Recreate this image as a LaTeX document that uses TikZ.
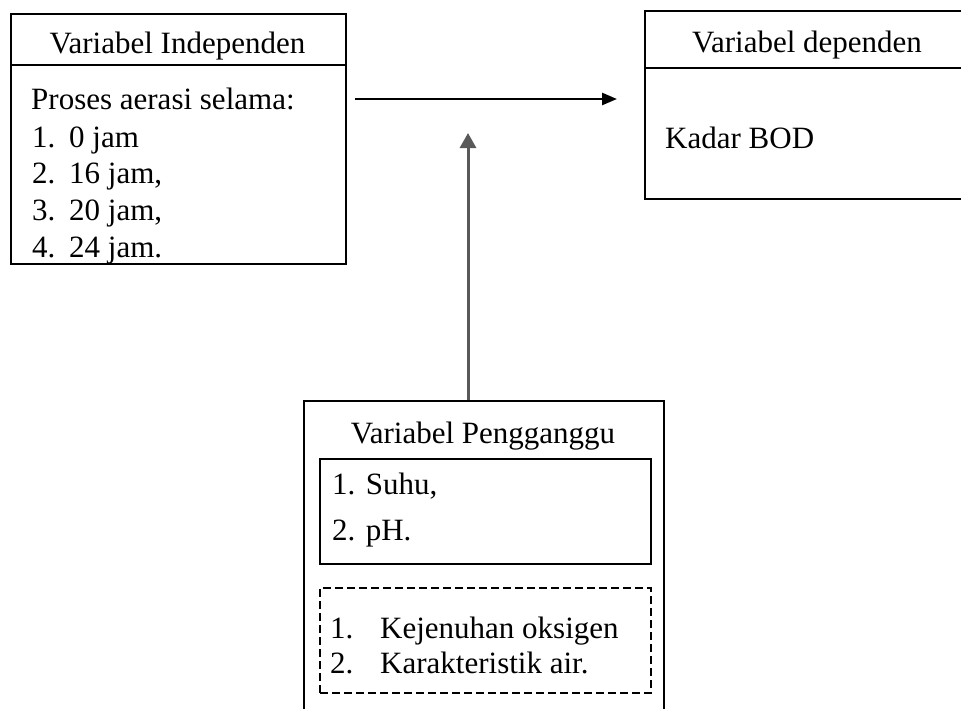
\documentclass[tikz,border=0pt]{standalone}
\usepackage{fontspec}
\setmainfont{Liberation Serif}
\usetikzlibrary{arrows.meta}
\begin{document}
\begin{tikzpicture}[x=1pt,y=-1pt,
  box/.style={draw, line width=2pt, inner sep=0pt, anchor=north west},
  dashbox/.style={box, dash pattern=on 8pt off 4pt},
  rule/.style={line width=2pt},
  txt/.style={anchor=base west, inner sep=0pt, font=\fontsize{31}{37}\selectfont},
  ctxt/.style={anchor=base, inner sep=0pt, font=\fontsize{31}{37}\selectfont},
  blackarrow/.style={line width=2.6pt, -{Triangle[length=15pt,width=12pt]}},
  grayarrow/.style={draw=arrowgray, line width=3pt, -{Triangle[length=15pt,width=16pt]}}]
\definecolor{arrowgray}{HTML}{595959}
\useasboundingbox (0,0) rectangle (961,709);
\fill[white] (0,0) rectangle (961,709);

% Independent variable box
\node[box, minimum width=335pt, minimum height=250pt] (ind) at (10,13) {};
\draw[rule] (10,65) -- (345,65);
\node[ctxt] (indh) at (177.5,54) {Variabel Independen};
\node[txt] (i0) at (31,110) {Proses aerasi selama:};
\node[txt] (i1n) at (32,147) {1.};
\node[txt] (i1) at (69,147) {0 jam};
\node[txt] (i2n) at (32,183) {2.};
\node[txt] (i2) at (69,183) {16 jam,};
\node[txt] (i3n) at (32,220) {3.};
\node[txt] (i3) at (69,220) {20 jam,};
\node[txt] (i4n) at (32,257) {4.};
\node[txt] (i4) at (69,257) {24 jam.};

% Dependent variable box
\node[box, minimum width=326pt, minimum height=188pt] (dep) at (644,10) {};
\draw[rule] (644,68) -- (970,68);
\node[ctxt] (deph) at (807,53) {Variabel dependen};
\node[txt] (bod) at (665,148) {Kadar BOD};

% Confounding variable box
\node[box, minimum width=360pt, minimum height=330pt] (pg) at (303,400) {};
\node[ctxt] (pgh) at (483,443) {Variabel Pengganggu};
\node[box, minimum width=331pt, minimum height=105pt] (ctl) at (319,458) {};
\node[txt] (c1) at (332,494) {1. Suhu,};
\node[txt] (c2) at (332,540) {2. pH.};
\node[dashbox, minimum width=331pt, minimum height=105pt] (unc) at (319,587) {};
\node[txt] (u1n) at (330,638) {1.};
\node[txt] (u1) at (380,638) {Kejenuhan oksigen};
\node[txt] (u2n) at (330,673) {2.};
\node[txt] (u2) at (380,673) {Karakteristik air.};

% Connectors
\coordinate (hs) at (355,99);
\coordinate (he) at (617,99);
\coordinate (vs) at (468,400);
\coordinate (ve) at (468,133);
\draw[blackarrow] (hs) -- (he);
\draw[grayarrow] (vs) -- (ve);
\end{tikzpicture}
\end{document}
